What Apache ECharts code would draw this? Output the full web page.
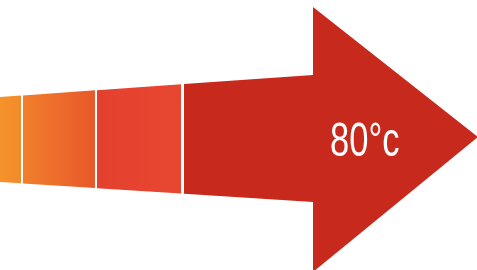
<!DOCTYPE html>
<html>
<head>
<meta charset="utf-8">
<script src="https://cdn.jsdelivr.net/npm/echarts@6/dist/echarts.min.js"></script>
<style>
  html, body { margin: 0; padding: 0; background: #fff; }
  #chart { width: 477px; height: 270px; }
</style>
</head>
<body>
<div id="chart"></div>
<script>
// stages of the arrow, left to right
const stageNames = ['stage 1', 'stage 2', 'stage 3', 'stage 4']
const segStart = [-5, 23, 97, 184]
const segEnd = [21, 95, 181, 314]
// shaft edges (y at x=0 and at x=313)
const shaftTop = [97, 75]
const shaftBottom = [182, 202]
// arrow head: base x, top y, bottom y, tip x, tip y
const headBase = 313
const headTop = 7
const headBottom = 272
const headTip = [478, 137]
const tempLabel = '80°c'
const tempLabelPos = [330, 143]

const segColors = [
  ['#F6952A', '#F28A2B'],
  ['#F17F2C', '#E8582A'],
  ['#E4402F', '#E7472F'],
  ['#C8291D', '#C8291D']
]

const chart = echarts.init(document.getElementById('chart'))

function topAt (x) {
  return shaftTop[0] + (shaftTop[1] - shaftTop[0]) * x / headBase
}
function bottomAt (x) {
  return shaftBottom[0] + (shaftBottom[1] - shaftBottom[0]) * x / headBase
}

function renderItem (params, api) {
  const i = params.dataIndex
  const x0 = api.value(1)
  const x1 = api.value(2)
  let pts
  if (i < stageNames.length - 1) {
    pts = [[x0, topAt(x0)], [x1, topAt(x1)], [x1, bottomAt(x1)], [x0, bottomAt(x0)]]
  } else {
    pts = [
      [x0, topAt(x0)], [headBase, topAt(headBase)], [headBase, headTop],
      headTip, [headBase, headBottom], [headBase, bottomAt(headBase)], [x0, bottomAt(x0)]
    ]
  }
  const children = [{
    type: 'polygon',
    shape: { points: pts.map(p => api.coord(p)) },
    style: {
      fill: new echarts.graphic.LinearGradient(0, 0, 1, 0, [
        { offset: 0, color: segColors[i][0] },
        { offset: 1, color: segColors[i][1] }
      ])
    }
  }]
  if (i === stageNames.length - 1) {
    const p = api.coord(tempLabelPos)
    children.push({
      type: 'text',
      x: p[0],
      y: p[1],
      scaleX: 0.72,
      style: {
        text: tempLabel,
        fill: '#fff',
        font: '48px "Liberation Sans", Arial, sans-serif',
        align: 'left',
        verticalAlign: 'middle'
      }
    })
  }
  return { type: 'group', children }
}

chart.setOption({
  animation: false,
  grid: { left: 0, right: 0, top: 0, bottom: 0 },
  xAxis: { type: 'value', min: 0, max: 477, show: false },
  yAxis: { type: 'value', min: 0, max: 270, inverse: true, show: false },
  series: [{
    type: 'custom',
    renderItem,
    clip: false,
    data: stageNames.map((n, i) => [i, segStart[i], segEnd[i]])
  }]
})
</script>
</body>
</html>
